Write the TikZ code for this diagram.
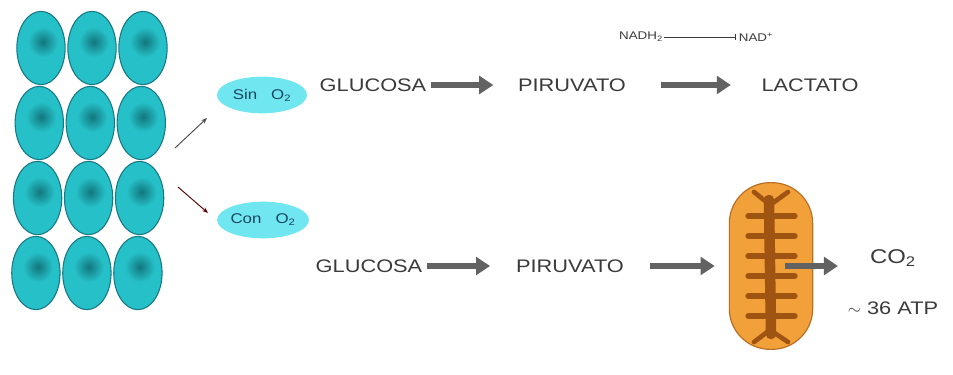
\documentclass[tikz,border=0pt]{standalone}
\usepackage{fontspec}
\setmainfont{Liberation Sans}
\newfontfamily\labelfont[FakeStretch=1.2]{Liberation Sans}
\usetikzlibrary{arrows.meta,shapes.geometric}

\definecolor{cellfill}{RGB}{38,192,200}
\definecolor{celledge}{RGB}{22,120,132}
\definecolor{nucleus}{RGB}{18,118,125}
\definecolor{bubble}{RGB}{112,230,240}
\definecolor{bubbletext}{RGB}{25,70,95}
\definecolor{arrowgray}{RGB}{98,98,98}
\definecolor{txt}{RGB}{58,58,58}
\definecolor{mitofill}{RGB}{242,160,58}
\definecolor{mitolight}{RGB}{250,192,100}
\definecolor{mitoedge}{RGB}{185,110,35}
\definecolor{crista}{RGB}{160,84,18}

\tikzset{
  cell/.style={ellipse, draw=celledge, line width=0.9pt, fill=cellfill,
    minimum width=1.45cm, minimum height=2.2cm, inner sep=0pt},
  oxy/.style={ellipse, fill=bubble, text=bubbletext, minimum width=2.7cm,
    minimum height=1.1cm, inner sep=0pt, font=\labelfont\fontsize{12}{14}\selectfont},
  step label/.style={text=txt, inner sep=2pt, font=\labelfont\fontsize{15.5}{18}\selectfont},
  small label/.style={text=txt, inner sep=1pt, font=\labelfont\fontsize{9.5}{11}\selectfont},
  flow/.style={draw=arrowgray, line width=4.3pt, -{Triangle[length=12pt,width=15pt]}},
  thin arrow/.style={line width=0.8pt, -{Stealth[length=5pt]}},
}

\begin{document}
\begin{tikzpicture}[x=0.03cm, y=-0.03cm]
\useasboundingbox (0,0) rectangle (953,375);

% Tissue: 4 rows of 3 cells
\foreach \r in {0,...,3} {
  \foreach \c in {0,...,2} {
    \node[cell] (cell-\r-\c) at ({41+51*\c-1.7*\r},{48+75*\r}) {};
    \shade[inner color=nucleus, outer color=cellfill]
      ([shift={(2,-6)}]cell-\r-\c.center) circle (15);
  }
}

% Oxygen conditions
\node[oxy] (sin) at (262,95) {Sin\quad O\textsubscript{2}};
\node[oxy] (con) at (263,220) {Con\quad O\textsubscript{2}};

\coordinate (upstart) at (175,148);
\coordinate (upend) at (207,118);
\coordinate (downstart) at (178,187);
\coordinate (downend) at (208,213);
\draw[thin arrow, arrowgray!80!black] (upstart) -- (upend);
\draw[thin arrow, red!35!black] (downstart) -- (downend);

% Without oxygen
\node[step label] (glu1) at (373,85) {GLUCOSA};
\node[step label] (pir1) at (572,85) {PIRUVATO};
\node[step label] (lac) at (810,85) {LACTATO};
\draw[flow, shorten <=2pt, shorten >=19pt] (glu1) -- (pir1);
\draw[flow, shorten <=28pt, shorten >=24pt] (pir1) -- (lac);

\node[small label] (nadh) at (641,37) {NADH\textsubscript{2}};
\node[small label] (nad) at (756,37) {NAD\textsuperscript{+}};
\draw[txt, line width=0.7pt, -{Bar[width=5pt]}, shorten >=1pt] (nadh.east) -- (nad.west);

% With oxygen
\node[step label] (glu2) at (369,266) {GLUCOSA};
\node[step label] (pir2) at (570,266) {PIRUVATO};
\node[draw=mitoedge, line width=1pt, left color=mitofill, middle color=mitolight,
  right color=mitofill, rounded corners=1.22cm,
  minimum width=2.5cm, minimum height=5cm] (mito) at (771,266) {};

% cristae
\draw[crista, line width=9pt, line cap=round] (769,200) -- (771,334);
\foreach \y in {216,236,256,276,296,316} {
  \draw[crista, line width=4.5pt, line cap=round] (748,\y) -- (795,\y);
}
\draw[crista, line width=4pt, line cap=round] (770,205) -- (754,192);
\draw[crista, line width=4pt, line cap=round] (770,205) -- (788,192);
\draw[crista, line width=4pt, line cap=round] (770,330) -- (754,342);
\draw[crista, line width=4pt, line cap=round] (770,330) -- (788,342);

\draw[flow, shorten <=2pt, shorten >=20pt] (glu2) -- (pir2);
\draw[flow, shorten <=20pt, shorten >=12pt] (pir2) -- (mito);

\node[text=txt, font=\labelfont\fontsize{17}{20}\selectfont] (co2) at (893,258) {CO\textsubscript{2}};
\node[step label] (atp) at (893,308) {$\sim$ 36 ATP};
\coordinate (mitoout) at (838,266);
\draw[flow, shorten <=-24pt] (mito.east) -- (mitoout);

\end{tikzpicture}
\end{document}
